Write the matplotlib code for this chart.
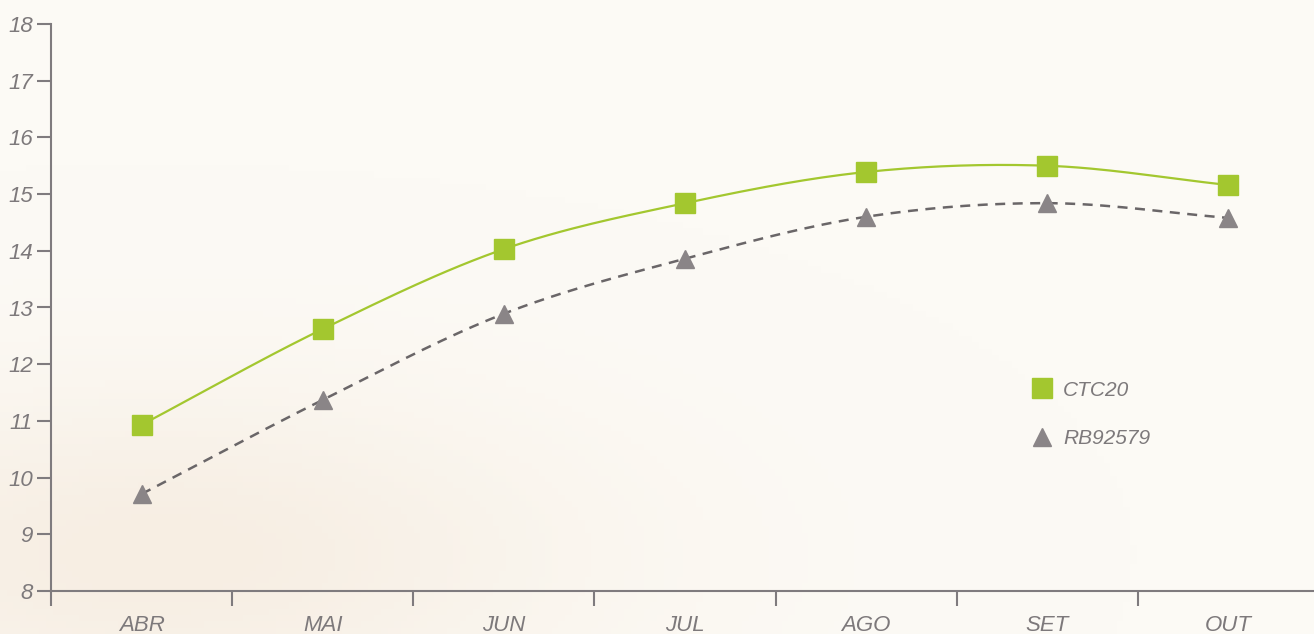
import numpy as np
import matplotlib.pyplot as plt
from matplotlib.lines import Line2D
from matplotlib.colors import LinearSegmentedColormap

months = ['ABR', 'MAI', 'JUN', 'JUL', 'AGO', 'SET', 'OUT']
ctc20 = [10.93, 12.62, 14.03, 14.84, 15.39, 15.50, 15.16]
rb92579 = [9.71, 11.37, 12.89, 13.86, 14.60, 14.84, 14.58]

green = '#a3c72f'
grey = '#8a8587'
axis_col = '#7f7b7e'
txt_col = '#7d797b'

def smooth(x, y, n=30):
    # catmull-rom through the points, like the smoothed line in a spreadsheet chart
    x = np.asarray(x, float)
    y = np.asarray(y, float)
    px = np.concatenate([[2*x[0]-x[1]], x, [2*x[-1]-x[-2]]])
    py = np.concatenate([[2*y[0]-y[1]], y, [2*y[-1]-y[-2]]])
    xs, ys = [], []
    t = np.linspace(0, 1, n)
    for i in range(1, len(px)-2):
        for p, out in ((px, xs), (py, ys)):
            p0, p1, p2, p3 = p[i-1], p[i], p[i+1], p[i+2]
            out.extend(0.5*((2*p1) + (-p0+p2)*t + (2*p0-5*p1+4*p2-p3)*t**2
                            + (-p0+3*p1-3*p2+p3)*t**3))
    return np.array(xs), np.array(ys)

plt.rcParams['font.family'] = ['Liberation Sans', 'DejaVu Sans']

fig = plt.figure(figsize=(13.14, 6.34), dpi=100)
fig.patch.set_facecolor('#fcfaf5')

# faint warm haze in the lower left of the background
bg = fig.add_axes([0, 0, 1, 1], zorder=-1)
bg.axis('off')
gx, gy = np.meshgrid(np.linspace(0, 1, 200), np.linspace(0, 1, 100))
haze = np.exp(-((gx - 0.12)**2 / 0.10 + (gy - 0.12)**2 / 0.07))
cmap = LinearSegmentedColormap.from_list('bg', ['#fcfaf5', '#f7eee3'])
bg.imshow(haze, cmap=cmap, origin='lower', aspect='auto', extent=(0, 1, 0, 1))

ax = fig.add_axes([51/1314, 43/634, 1268/1314, 567/634])
ax.set_facecolor('none')

xpos = np.arange(len(months)) + 0.5

sx, sy = smooth(xpos, ctc20)
ax.plot(sx, sy, color=green, lw=1.6, zorder=2)
ax.plot(xpos, ctc20, ls='none', marker='s', ms=14, color=green, zorder=3)

sx, sy = smooth(xpos, rb92579)
ax.plot(sx, sy, color='#6a6668', lw=1.8, ls=(0, (4, 3)), zorder=2)
ax.plot(xpos, rb92579, ls='none', marker='^', ms=13, color=grey, zorder=3)

ax.set_xlim(0, 7)
ax.set_ylim(8, 18)
ax.set_yticks(range(8, 19))
ax.set_xticks(range(0, 8))
ax.set_xticklabels([])
ax.set_xticks(xpos, minor=True)
ax.set_xticklabels(months, minor=True)
ax.tick_params(axis='x', which='minor', length=0, pad=17)
ax.tick_params(axis='x', which='major', length=11, width=1.5, color=axis_col)
ax.tick_params(axis='y', length=10, width=1.5, color=axis_col, pad=3)
for lab in ax.get_xticklabels(minor=True):
    lab.set_fontstyle('italic')
    lab.set_fontsize(16)
    lab.set_color(txt_col)
for lab in ax.get_yticklabels():
    lab.set_fontstyle('italic')
    lab.set_fontsize(16)
    lab.set_color(txt_col)

for s in ['top', 'right']:
    ax.spines[s].set_visible(False)
for s in ['left', 'bottom']:
    ax.spines[s].set_color(axis_col)
    ax.spines[s].set_linewidth(1.5)

handles = [Line2D([], [], ls='none', marker='s', ms=14, color=green),
           Line2D([], [], ls='none', marker='^', ms=13, color=grey)]
leg = ax.legend(handles, ['CTC20', 'RB92579'], loc='upper left',
                bbox_to_anchor=(1013/1314, (634-362)/634), bbox_transform=fig.transFigure,
                frameon=False, handlelength=1.0, handletextpad=0.5, labelspacing=1.4,
                prop={'size': 15, 'style': 'italic'})
for t in leg.get_texts():
    t.set_color(txt_col)

fig.savefig('out.png', dpi=100, facecolor=fig.get_facecolor())
